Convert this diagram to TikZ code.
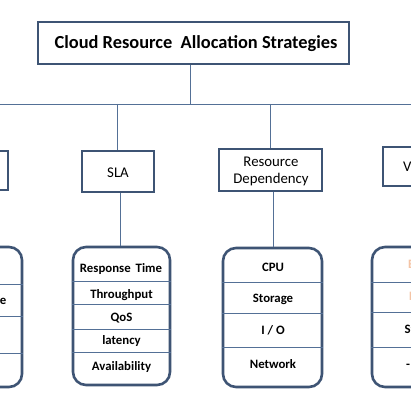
\documentclass[tikz,border=0pt]{standalone}
\usepackage{fontspec}
\setmainfont{Carlito}
\definecolor{boxc}{RGB}{62,84,116}
\definecolor{linec}{RGB}{84,112,150}
\definecolor{faint}{RGB}{244,196,165}
\begin{document}
\begin{tikzpicture}[x=1pt,y=-1pt,
  hbox/.style={draw=boxc,line width=2.6pt,fill=white,inner sep=0pt,align=center},
  lbox/.style={draw=boxc,line width=2.6pt,fill=white,rounded corners=13pt,inner sep=0pt},
  conn/.style={draw=linec,line width=0.9pt},
  divl/.style={draw=linec,line width=0.8pt},
  itemt/.style={font=\fontsize{12.8}{14}\selectfont\bfseries,inner sep=0pt},
  headt/.style={font=\fontsize{14.8}{17.5}\selectfont,inner sep=0pt,align=center}]
\useasboundingbox (0,0) rectangle (411,411);
\clip (0,0) rectangle (411,411);
\fill[white] (0,0) rectangle (411,411);
% junctions
\coordinate (jt) at (190,104);
\coordinate (jl) at (-30,104);
\coordinate (jr) at (440,104);
\coordinate (j1) at (117,104);
\coordinate (j2) at (270,104);
% title
\node[hbox,minimum width=311pt,minimum height=42pt] (title) at (193.5,43) {};
\node[font=\fontsize{18.4}{20}\selectfont\bfseries,inner sep=0pt] (titlet) at (196,44) {Cloud Resource\ \ Allocation Strategies};
% heads
\node[hbox,minimum width=72pt,minimum height=41pt] (sla) at (118,171.5) {};
\node[headt] (slat) at (118,172.5) {SLA};
\node[hbox,minimum width=103pt,minimum height=42pt] (res) at (270.5,170) {};
\node[headt] (rest) at (271,171.5) {Resource\\Dependency};
\node[hbox,minimum width=100pt,minimum height=39pt] (lh) at (-42,170.5) {};
\node[hbox,minimum width=90pt,minimum height=39pt] (rh) at (428,166.5) {};
\node[headt,anchor=west] (rht) at (403,166.5) {VM};
% connectors
\draw[conn] (title.south -| jt) -- (jt);
\draw[conn] (jl) -- (jr);
\draw[conn] (j1) -- (j1 |- sla.north);
\draw[conn] (j2) -- (j2 |- res.north);
\draw[conn] (jl) -- (jl |- lh.north);
\draw[conn] (jr) -- (jr |- rh.north);
% lists
\node[lbox,minimum width=97pt,minimum height=138pt] (slal) at (121.5,316) {};
\node[lbox,minimum width=99pt,minimum height=139pt] (resl) at (272.5,317.5) {};
\node[lbox,minimum width=110pt,minimum height=140pt] (ll) at (-33,317) {};
\node[lbox,minimum width=110pt,minimum height=140pt] (rl) at (427,317) {};
\draw[conn] (sla.south -| 120,0) -- (slal.north -| 120,0);
\draw[conn] (res.south -| 273,0) -- (resl.north -| 273,0);
% SLA list
\foreach \y in {281,304,329,352} \draw[divl] (slal.west |- 0,\y) -- (slal.east |- 0,\y);
\node[itemt] (s1) at (121,269) {Response\ \,Time};
\node[itemt] (s2) at (121.5,295.5) {Throughput};
\node[itemt] (s3) at (121.5,318) {QoS};
\node[itemt] (s4) at (121.5,341) {latency};
\node[itemt] (s5) at (121.5,367) {Availability};
% Resource list
\foreach \y in {282,313,347} \draw[divl] (resl.west |- 0,\y) -- (resl.east |- 0,\y);
\node[itemt] (r1) at (273,267) {CPU};
\node[itemt] (r2) at (273,299) {Storage};
\node[itemt] (r3) at (273,330) {I / O};
\node[itemt] (r4) at (273,364) {Network};
% left list
\foreach \y in {284,316,353} \draw[divl] (ll.west |- 0,\y) -- (ll.east |- 0,\y);
\node[itemt,anchor=east] (l2) at (6.5,300) {Performance};
% right list
\foreach \y in {282,312,347} \draw[divl] (rl.west |- 0,\y) -- (rl.east |- 0,\y);
\node[itemt,anchor=west,text=faint] (q1) at (408,265) {Energy};
\node[itemt,anchor=west,text=faint] (q2) at (409,296) {Power};
\node[itemt,anchor=west] (q3) at (404.5,329) {Static};
\node[itemt,anchor=west] (q4) at (406,366) {-};
\end{tikzpicture}
\end{document}
